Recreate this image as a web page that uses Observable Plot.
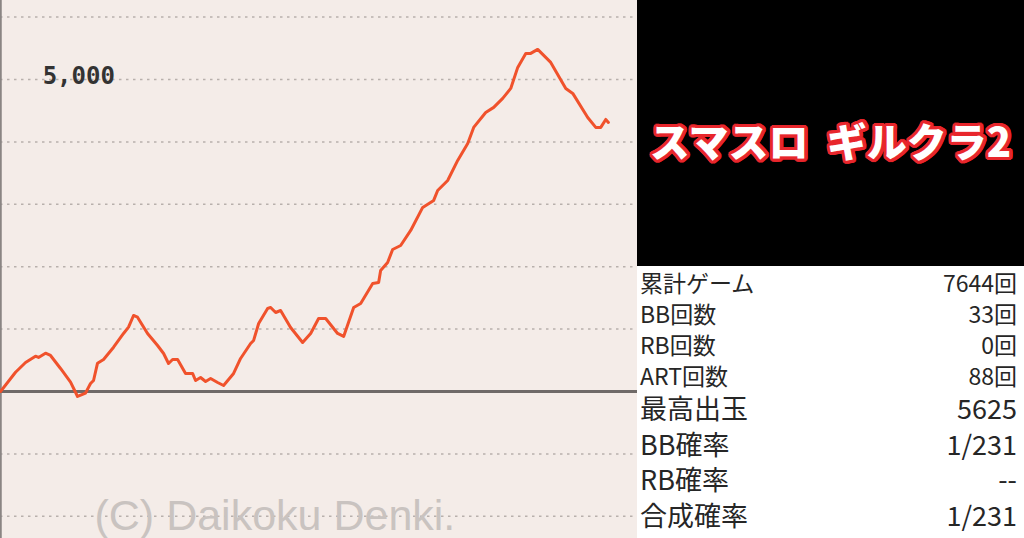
<!DOCTYPE html>
<html>
<head>
<meta charset="utf-8">
<script src="https://cdn.jsdelivr.net/npm/d3@7"></script>
<script src="https://cdn.jsdelivr.net/npm/@observablehq/plot@0.6"></script>
<style>
  html, body { margin: 0; padding: 0; width: 1024px; height: 538px; overflow: hidden; background: #fff; }
  #left { position: absolute; left: 0; top: 0; width: 637px; height: 538px; background: #f4ece8; }
  #right { position: absolute; left: 637px; top: 0; width: 387px; height: 538px; background: #fff; }
  #titlebox { height: 266px; background: #000; display: flex; align-items: center; justify-content: center; padding-top: 14px; box-sizing: border-box; }
  #title { font-family: "Noto Sans CJK JP", sans-serif; font-weight: 900; font-size: 40px; color: #fff; letter-spacing: 0px; white-space: pre; }
  .row { display: flex; justify-content: space-between; align-items: center; padding: 0 7px 0 3px; font-family: "Noto Sans CJK JP", sans-serif; color: #262626; white-space: pre; }
  .small { height: 31px; font-size: 23px; }
  .big { height: 35.5px; font-size: 27px; }
</style>
</head>
<body>
<div id="left"></div>
<div id="right">
  <div id="titlebox"><div id="title"></div></div>
  <div id="table"></div>
</div>
<script>
// Data: cumulative games vs. balance (medals)
const games = [0,189,315,440,478,566,629,755,881,969,1069,1132,1170,1220,1296,1422,1547,1610,1673,1723,1849,1975,2051,2113,2164,2227,2327,2415,2453,2516,2579,2642,2730,2805,2931,3019,3145,3183,3246,3359,3397,3460,3522,3648,3799,3900,4000,4089,4239,4315,4441,4529,4680,4755,4780,4868,4931,5032,5158,5309,5447,5497,5623,5749,5875,5950,6101,6202,6315,6416,6504,6605,6667,6755,6919,7108,7196,7384,7485,7548,7611,7644];
const balance = [0,309,465,566,545,614,577,369,149,-80,-27,128,176,454,513,710,930,1031,1218,1191,930,737,609,449,513,513,289,289,176,224,160,208,144,96,289,529,769,818,1090,1330,1347,1266,1298,1026,785,930,1170,1170,930,882,1347,1411,1731,1747,1940,2068,2276,2340,2581,2950,3062,3222,3382,3703,3975,4232,4472,4553,4697,4857,5194,5418,5418,5482,5274,4857,4777,4392,4232,4232,4360,4312];
const gridValues = [-2000,-1000,1000,2000,3000,4000,5000,6000];
const labelValue = 5000;
const labelText = "5,000";
const watermark = "(C) Daikoku Denki.";
const titleText = "スマスロ  ギルクラ2";
const statLabelsSmall = ["累計ゲーム","BB回数","RB回数","ART回数"];
const statValuesSmall = ["7644回","33回","0回","88回"];
const statLabelsBig = ["最高出玉","BB確率","RB確率","合成確率"];
const statValuesBig = ["5625","1/231","--","1/231"];

const data = games.map((g, i) => ({g, v: balance[i]}));

const chart = Plot.plot({
  width: 637, height: 538,
  margin: 0,
  style: { background: "transparent", overflow: "visible" },
  x: { domain: [0, 8010], axis: null },
  y: { domain: [-2356, 6266], axis: null },
  marks: [
    Plot.ruleY(gridValues, { stroke: "#b8b0ac", strokeWidth: 1.5, strokeDasharray: "2.5,4.5" }),
    Plot.text([watermark], { frameAnchor: "bottom-left", dx: 94, dy: -9, lineAnchor: "bottom", textAnchor: "start", fontSize: 43, fill: "#c9c3c0", fontFamily: "Liberation Sans, Arial, sans-serif" }),
    Plot.ruleX([0], { stroke: "#8a8583", strokeWidth: 2.5 }),
    Plot.ruleY([0], { stroke: "#6f6a68", strokeWidth: 2.8 }),
    Plot.text([labelText], { x: () => 530, y: () => labelValue, dy: -3, textAnchor: "start", fontSize: 24, fontWeight: "bold", fill: "#333", fontFamily: "DejaVu Sans Mono, monospace" }),
    Plot.line(data, { x: "g", y: "v", stroke: "#f0522c", strokeWidth: 3, strokeLinejoin: "round" })
  ]
});
document.getElementById("left").appendChild(chart);

const t = document.getElementById("title");
t.textContent = titleText;
const sh = [];
for (let a = 0; a < 24; a++) {
  const ang = a / 24 * Math.PI * 2;
  sh.push(`${(3.2*Math.cos(ang)).toFixed(2)}px ${(3.2*Math.sin(ang)).toFixed(2)}px 0 #e8262c`);
}
t.style.textShadow = sh.join(",");

const tbl = document.getElementById("table");
statLabelsSmall.forEach((l, i) => {
  const r = document.createElement("div");
  r.className = "row small";
  r.innerHTML = `<span>${l}</span><span>${statValuesSmall[i]}</span>`;
  tbl.appendChild(r);
});
statLabelsBig.forEach((l, i) => {
  const r = document.createElement("div");
  r.className = "row big";
  r.innerHTML = `<span>${l}</span><span>${statValuesBig[i]}</span>`;
  tbl.appendChild(r);
});
</script>
</body>
</html>
